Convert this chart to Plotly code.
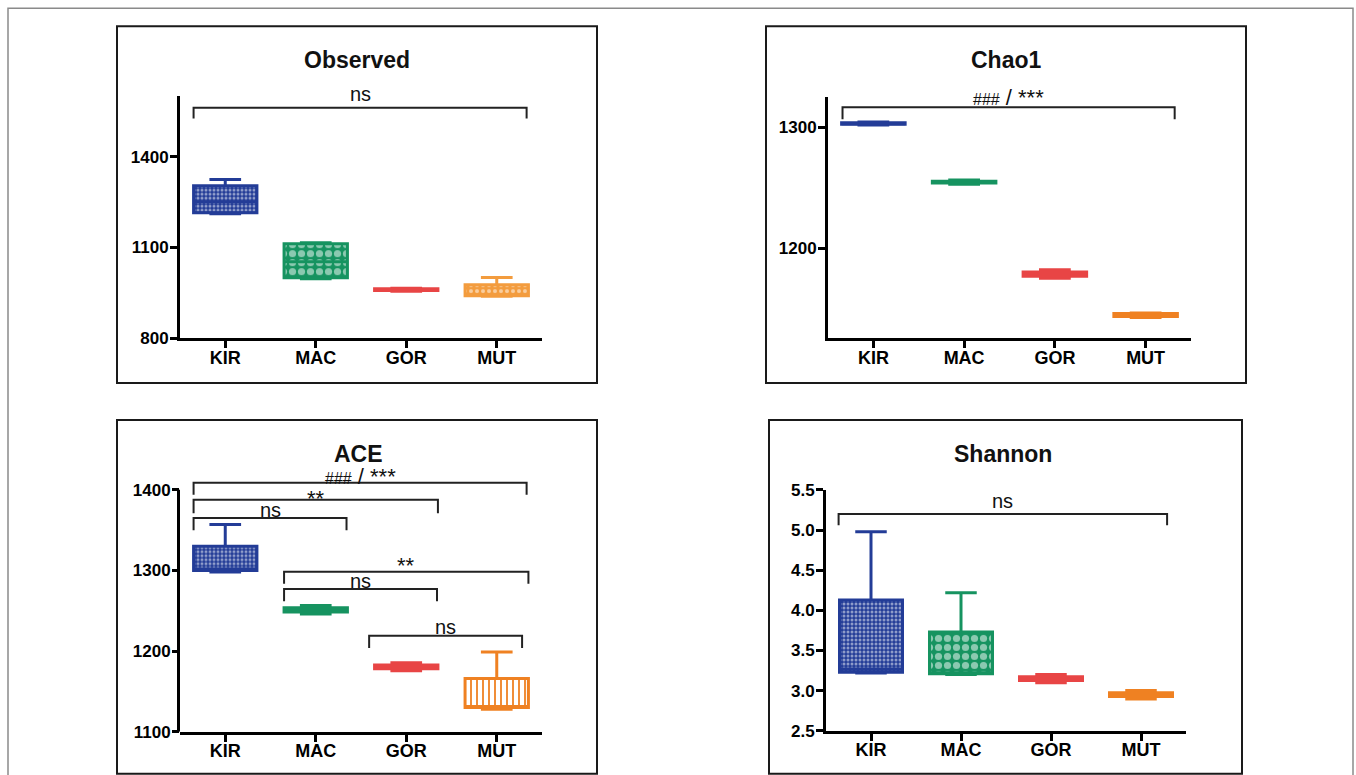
import plotly.graph_objects as go

W, HF = 1356, 800          # figure size (page px)
TOP = -8                   # page offset of the figure
SY, OY = 0.9768, 7.6       # picture_y = OY + SY * page_y

# ---------------- data ----------------
groups = ["KIR", "MAC", "GOR", "MUT"]

# Observed
obs_min = [1211, 996, 955, 938]
obs_q1 = [1214, 999, 957, 940]
obs_med = [1251, 1052, 960, 941]
obs_q3 = [1304, 1112, 963, 976]
obs_max = [1324, 1115, 965, 1000]

# Chao1
chao_min = [1301.8, 1252.7, 1175.0, 1142.5]
chao_q1 = [1302.4, 1253.8, 1176.7, 1143.4]
chao_med = [1303.0, 1254.5, 1178.5, 1144.6]
chao_q3 = [1303.6, 1255.2, 1180.3, 1145.9]
chao_max = [1304.2, 1256.3, 1182.0, 1146.2]

# ACE
ace_min = [1298, 1246.0, 1175.7, 1128]
ace_q1 = [1300, 1248.5, 1178.3, 1130]
ace_med = [1302, 1251.0, 1180.6, 1131]
ace_q3 = [1330, 1253.9, 1182.9, 1166]
ace_max = [1357, 1256.5, 1185.6, 1199]

# Shannon
sha_min = [3.22, 3.20, 3.10, 2.895]
sha_q1 = [3.23, 3.21, 3.127, 2.927]
sha_med = [3.27, 3.22, 3.15, 2.95]
sha_q3 = [4.13, 3.73, 3.173, 2.973]
sha_max = [4.98, 4.22, 3.20, 3.003]

# significance brackets: (left group, right group, level, drop-to, label)
obs_brackets = [("KIR", "MUT", 1562, 1526, "ns")]
chao_brackets = [("KIR", "MUT", 1316.5, 1306.6, "### / ***")]
ace_brackets = [
    ("KIR", "MUT", 1408.7, 1394, "### / ***"),
    ("KIR", "GOR", 1387.6, 1371, "**"),
    ("KIR", "MAC", 1365, 1350, "ns"),
    ("MAC", "MUT", 1298.4, 1283.5, "**"),
    ("MAC", "GOR", 1277, 1262, "ns"),
    ("GOR", "MUT", 1219, 1204, "ns"),
]
sha_brackets = [("KIR", "MUT", 5.2, 5.06, "ns")]

# ---------------- styling ----------------
FONT = "Liberation Sans, Arial, sans-serif"
colors = {"KIR": "#233C97", "MAC": "#169360", "GOR": "#E84545", "MUT": "#EF8122"}


def px(x):
    return x / W


def py(y):
    """picture-pixel y -> paper fraction"""
    fig_y = (y - OY) / SY - TOP
    return 1 - fig_y / HF


def solid(c):
    return dict(shape="", fg=c, bg=c, size=5, sol=0.3, mode="overlay")


FINE = dict(shape=".", fg="white", bg=colors["KIR"], size=4, sol=0.45, mode="overlay")
COARSE = dict(shape=".", fg="white", bg=colors["MAC"], size=9, sol=0.5, mode="overlay")

panels = [
    dict(title="Observed", ax="", mn=obs_min, q1=obs_q1, md=obs_med, q3=obs_q3, mx=obs_max,
         br=obs_brackets, xd=(180, 542), yd=(337, 95), yr=[800, 1600],
         tv=[800, 1100, 1400], fmt="", tpos=(357, 59),
         pat=[FINE, COARSE, solid(colors["GOR"]),
              dict(shape=".", fg="white", bg="#F39C3E", size=6, sol=0.35, mode="overlay")],
         cols=[colors["KIR"], colors["MAC"], colors["GOR"], "#F39C3E"],
         offs=[(-0.35, 0.33)], shifts=[1], box=(117, 25, 597, 382)),
    dict(title="Chao1", ax="2", mn=chao_min, q1=chao_q1, md=chao_med, q3=chao_q3, mx=chao_max,
         br=chao_brackets, xd=(828, 1191), yd=(337, 96), yr=[1125.6, 1324.8],
         tv=[1200, 1300], fmt="", tpos=(1006, 59),
         pat=[solid(colors[g]) for g in groups],
         cols=[colors[g] for g in groups],
         offs=[(-0.34, 0.32)], shifts=[-5], box=(766, 25, 1246, 382)),
    dict(title="ACE", ax="3", mn=ace_min, q1=ace_q1, md=ace_med, q3=ace_q3, mx=ace_max,
         br=ace_brackets, xd=(180, 542), yd=(731, 731 - 320 * 0.807), yr=[1100, 1420],
         tv=[1100, 1200, 1300, 1400], fmt="", tpos=(358, 453),
         pat=[FINE, solid(colors["MAC"]), solid(colors["GOR"]),
              dict(shape="|", fg=colors["MUT"], bg="white", size=6, sol=0.3, mode="replace",
                   mc=colors["MUT"])],
         cols=[colors[g] for g in groups],
         offs=[(-0.35, 0.33), (-0.35, 0.35), (-0.35, 0.34), (-0.35, 0.35), (-0.35, 0.34), (-0.41, 0.28)],
         shifts=[-8, -13, -5, -8, -5, -4], box=(117, 419, 597, 773), spine=True),
    dict(title="Shannon", ax="4", mn=sha_min, q1=sha_q1, md=sha_med, q3=sha_q3, mx=sha_max,
         br=sha_brackets, xd=(826, 1186), yd=(730, 489), yr=[2.5, 5.5],
         tv=[2.5, 3.0, 3.5, 4.0, 4.5, 5.0, 5.5], fmt=".1f", tpos=(1003, 453),
         pat=[FINE, COARSE, solid(colors["GOR"]), solid(colors["MUT"])],
         cols=[colors[g] for g in groups],
         offs=[(-0.36, 0.29)], shifts=[0], box=(769, 419, 1242, 773)),
]

fig = go.Figure()
annotations = []
shapes = []
layout = {}

# outer frame
shapes.append(dict(type="rect", xref="paper", yref="paper",
                   x0=px(8), x1=px(1353), y0=py(790), y1=py(7),
                   line=dict(color="#8a8a8a", width=1.5)))

for p in panels:
    a = p["ax"]
    xa, ya = "x" + a, "y" + a
    xi = list(range(len(groups)))
    for i, g in enumerate(groups):
        pp = p["pat"][i]
        # patterned fill of the box
        fig.add_trace(go.Bar(
            x=[i], base=[p["q1"][i]], y=[p["q3"][i] - p["q1"][i]],
            width=0.7, xaxis=xa, yaxis=ya, showlegend=False, hoverinfo="skip",
            marker=dict(color=pp.get("mc", pp["bg"]), line=dict(width=0),
                        pattern=dict(shape=pp["shape"], fgcolor=pp["fg"], bgcolor=pp["bg"],
                                     size=pp["size"], solidity=pp["sol"],
                                     fillmode=pp["mode"])),
        ))
        # box outline, whiskers and caps
        fig.add_trace(go.Box(
            x=[i], q1=[p["q1"][i]], median=[p["md"][i]], q3=[p["q3"][i]],
            lowerfence=[p["mn"][i]], upperfence=[p["mx"][i]],
            width=0.7, whiskerwidth=0.5, boxpoints=False,
            line=dict(color=p["cols"][i], width=3), fillcolor="rgba(0,0,0,0)",
            xaxis=xa, yaxis=ya, showlegend=False, hoverinfo="skip",
        ))
    # significance brackets
    for (gl, gr, lev, drop, lab), (ol, orr), sh in zip(p["br"], p["offs"], p["shifts"]):
        x0 = groups.index(gl) + ol
        x1 = groups.index(gr) + orr
        fig.add_trace(go.Scatter(
            x=[x0, x0, x1, x1], y=[drop, lev, lev, drop], mode="lines",
            line=dict(color="#222", width=2), xaxis=xa, yaxis=ya,
            showlegend=False, hoverinfo="skip", cliponaxis=False,
        ))
        if lab.startswith("###"):
            txt = "<span style='font-size:16px'>###</span> / ***"
            fsz = 22
        elif lab.startswith("*"):
            txt, fsz = lab, 22
        else:
            txt, fsz = lab, 20
        annotations.append(dict(xref=xa, yref=ya, x=(x0 + x1) / 2, y=lev, text=txt,
                                showarrow=False, yanchor="bottom", xanchor="center",
                                yshift=sh, font=dict(family=FONT, size=fsz, color="#111")))
    # panel title
    annotations.append(dict(xref="paper", yref="paper", x=px(p["tpos"][0]), y=py(p["tpos"][1]),
                            text="<b>%s</b>" % p["title"], showarrow=False,
                            xanchor="center", yanchor="middle",
                            font=dict(family=FONT, size=23, color="#111")))
    # panel frame
    bx = p["box"]
    shapes.append(dict(type="rect", xref="paper", yref="paper",
                       x0=px(bx[0]), x1=px(bx[2]), y0=py(bx[3]), y1=py(bx[1]),
                       line=dict(color="#1a1a1a", width=2)))
    spine = p.get("spine", False)
    layout["xaxis" + a] = dict(
        domain=[px(p["xd"][0]), px(p["xd"][1])], anchor=ya, range=[-0.5, 3.5],
        tickmode="array", tickvals=xi, ticktext=groups, showgrid=False, zeroline=False,
        showline=True, linewidth=3, linecolor="black", ticks="outside", ticklen=7,
        tickwidth=3, tickcolor="black", ticklabelstandoff=-6,
        tickfont=dict(family=FONT, size=18, color="black", weight="bold"))
    layout["yaxis" + a] = dict(
        domain=[py(p["yd"][0]), py(p["yd"][1])], anchor=xa, range=p["yr"],
        tickmode="array", tickvals=p["tv"],
        ticktext=[(format(v, p["fmt"]) if p["fmt"] else str(int(v))) for v in p["tv"]],
        showgrid=False, zeroline=False, showline=not spine, linewidth=3, linecolor="black",
        ticks="outside", ticklen=7, tickwidth=3, tickcolor="black", ticklabelstandoff=-2,
        tickfont=dict(family=FONT, size=17, color="black", weight="bold"))
    if spine:
        shapes.append(dict(type="line", xref="paper", yref=ya,
                           x0=px(p["xd"][0] - 1.5), x1=px(p["xd"][0] - 1.5),
                           y0=p["yr"][0], y1=p["tv"][-1],
                           line=dict(color="black", width=3)))

fig.update_layout(
    width=W, height=HF, margin=dict(l=0, r=0, t=0, b=0),
    paper_bgcolor="white", plot_bgcolor="white",
    boxmode="overlay", barmode="overlay",
    annotations=annotations, shapes=shapes, showlegend=False,
    font=dict(family=FONT),
    **layout,
)

fig.write_html(
    "out.html",
    config={"displayModeBar": False},
    post_script=("var d=document.getElementById('{plot_id}');"
                 "d.style.position='fixed';d.style.left='0px';d.style.top='%dpx';"
                 "document.body.style.margin='0';document.body.style.overflow='hidden';" % TOP),
)
